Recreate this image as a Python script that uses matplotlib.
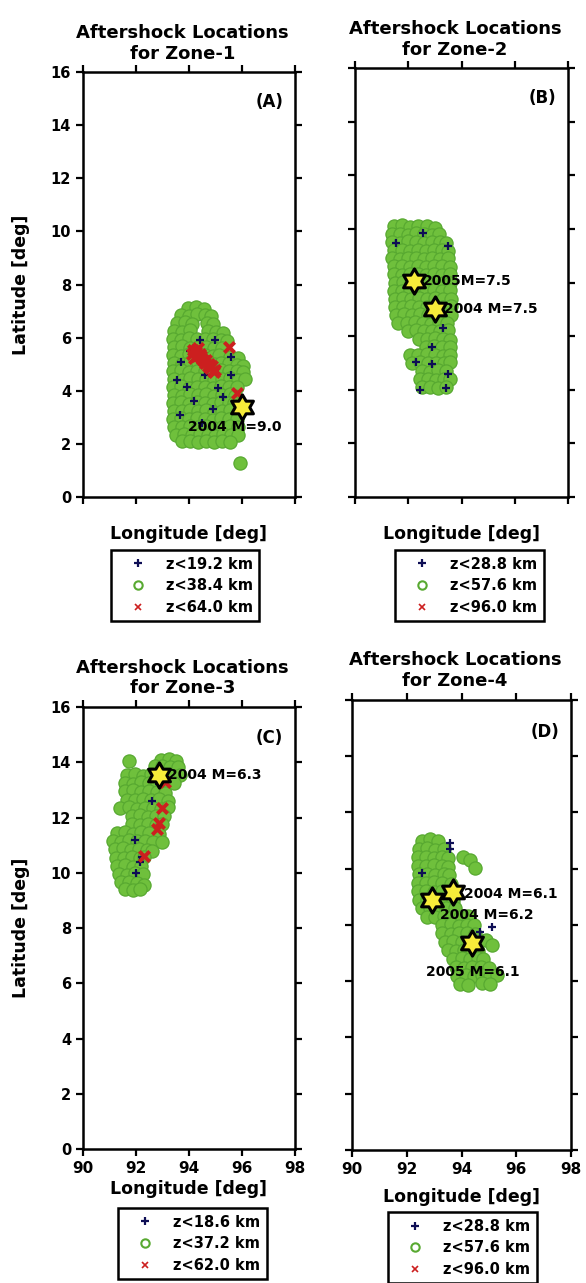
import matplotlib
matplotlib.use('Agg')
import matplotlib.pyplot as plt
from matplotlib.lines import Line2D
from matplotlib.path import Path
import numpy as np

plt.rcParams['font.family'] = ['DejaVu Sans']
plt.rcParams['font.weight'] = 'bold'
plt.rcParams['axes.labelweight'] = 'bold'

# ---------------- datos (lon, lat) ----------------
# Zona 1
zone1_mid = [
    (93.95, 7.12), (94.25, 7.15), (94.55, 7.08),
    (93.70, 6.85), (94.00, 6.82), (94.30, 6.88), (94.60, 6.84), (94.82, 6.80),
    (93.55, 6.55), (93.85, 6.58), (94.10, 6.52), (94.68, 6.56), (94.92, 6.50),
    (93.45, 6.25), (93.75, 6.22), (94.05, 6.28), (94.72, 6.24), (95.02, 6.20), (95.30, 6.18),
    (93.40, 5.95), (93.70, 5.92), (94.00, 5.97), (94.30, 5.93), (94.60, 5.96), (94.90, 5.94), (95.20, 5.90), (95.45, 5.88),
    (93.45, 5.65), (93.75, 5.68), (94.05, 5.62), (94.35, 5.66), (94.65, 5.64), (94.95, 5.60), (95.25, 5.62),
    (93.40, 5.35), (93.70, 5.32), (94.00, 5.38), (94.30, 5.34), (94.60, 5.36), (94.90, 5.30), (95.15, 5.33), (95.55, 5.28), (95.85, 5.22),
    (93.45, 5.05), (93.75, 5.02), (94.05, 5.08), (94.35, 5.04), (94.65, 5.06), (94.95, 5.00), (95.20, 5.03), (95.50, 5.05), (95.80, 4.98), (96.05, 4.95),
    (93.40, 4.75), (93.70, 4.78), (94.00, 4.72), (94.30, 4.76), (94.60, 4.74), (94.90, 4.70), (95.20, 4.77), (95.50, 4.73), (95.80, 4.75), (96.05, 4.70),
    (93.45, 4.45), (93.75, 4.42), (94.05, 4.48), (94.35, 4.44), (94.65, 4.46), (94.95, 4.40), (95.25, 4.43), (95.55, 4.47), (95.85, 4.42), (96.10, 4.45),
    (93.40, 4.15), (93.70, 4.18), (94.00, 4.12), (94.30, 4.16), (94.60, 4.14), (94.90, 4.10), (95.20, 4.17), (95.50, 4.13), (95.80, 4.15),
    (93.45, 3.85), (93.75, 3.82), (94.05, 3.88), (94.35, 3.84), (94.65, 3.86), (94.95, 3.80), (95.25, 3.83), (95.55, 3.87), (95.75, 3.82),
    (93.40, 3.55), (93.70, 3.58), (94.00, 3.52), (94.30, 3.56), (94.60, 3.54), (94.90, 3.50), (95.20, 3.57), (95.50, 3.53), (95.70, 3.55),
    (93.45, 3.25), (93.75, 3.22), (94.05, 3.28), (94.35, 3.24), (94.65, 3.26), (94.95, 3.20), (95.25, 3.23), (95.55, 3.27),
    (93.40, 2.95), (93.70, 2.98), (94.00, 2.92), (94.30, 2.96), (94.60, 2.94), (94.90, 2.90), (95.20, 2.97), (95.50, 2.93), (95.80, 2.95),
    (93.45, 2.65), (93.75, 2.62), (94.05, 2.68), (94.35, 2.64), (94.65, 2.66), (94.95, 2.60), (95.25, 2.63), (95.55, 2.67), (95.85, 2.62),
    (93.50, 2.35), (93.80, 2.38), (94.10, 2.32), (94.40, 2.36), (94.70, 2.34), (95.00, 2.30), (95.30, 2.37), (95.60, 2.33), (95.85, 2.35),
    (93.75, 2.10), (94.05, 2.12), (94.35, 2.08), (94.65, 2.10), (94.95, 2.06), (95.25, 2.10), (95.55, 2.08),
    (95.92, 1.28),
]
zone1_shallow = [
    (94.42, 5.92), (95.58, 5.28), (93.92, 4.15), (93.70, 5.10), (94.60, 4.60),
    (95.10, 4.10), (94.20, 3.60), (94.90, 3.30), (95.30, 3.75), (93.65, 3.10),
    (94.50, 2.80), (95.60, 4.60), (94.05, 5.50), (95.00, 5.90), (93.55, 4.40),
]
zone1_deep = [
    (94.15, 5.55), (94.25, 5.45), (94.30, 5.30), (94.20, 5.25), (94.40, 5.40),
    (94.50, 5.20), (94.60, 5.05), (94.70, 4.95), (94.80, 4.85), (94.90, 4.75),
    (95.00, 4.80), (94.65, 5.15), (94.35, 5.60), (94.10, 5.40), (94.45, 5.30),
    (94.55, 5.12), (94.75, 5.00), (94.85, 4.95), (94.95, 4.70), (94.25, 5.55),
    (95.50, 5.65), (95.80, 3.90),
]
zone1_stars = [(96.0, 3.4)]
zone1_notes = ['2004 M=9.0']
zone1_note_xy = [(93.95, 2.64)]
zone1_legend = ['z<19.2 km', 'z<38.4 km', 'z<64.0 km']

# Zona 2
zone2_mid = [
    (91.45, 10.10), (91.75, 10.15), (92.05, 10.08), (92.35, 10.12), (92.70, 10.10), (93.00, 10.05),
    (91.40, 9.80), (91.70, 9.82), (92.00, 9.78), (92.30, 9.84), (92.60, 9.80), (92.90, 9.76), (93.15, 9.82),
    (91.40, 9.50), (91.70, 9.48), (92.00, 9.53), (92.30, 9.50), (92.60, 9.47), (92.90, 9.52), (93.20, 9.50), (93.40, 9.46),
    (91.45, 9.20), (91.75, 9.22), (92.05, 9.18), (92.35, 9.21), (92.65, 9.19), (92.95, 9.23), (93.25, 9.20), (93.50, 9.18),
    (91.40, 8.90), (91.70, 8.88), (92.00, 8.92), (92.30, 8.90), (92.60, 8.87), (92.90, 8.91), (93.20, 8.89), (93.50, 8.92),
    (91.45, 8.60), (91.75, 8.62), (92.05, 8.58), (92.35, 8.61), (92.65, 8.59), (92.95, 8.63), (93.25, 8.60), (93.55, 8.58),
    (91.45, 8.30), (91.75, 8.28), (92.05, 8.32), (92.35, 8.30), (92.65, 8.27), (92.95, 8.31), (93.25, 8.29), (93.55, 8.32),
    (91.50, 8.00), (91.80, 8.02), (92.10, 7.98), (92.40, 8.01), (92.70, 7.99), (93.00, 8.03), (93.30, 8.00), (93.55, 7.98),
    (91.45, 7.70), (91.75, 7.68), (92.05, 7.72), (92.35, 7.70), (92.65, 7.67), (92.95, 7.71), (93.25, 7.69), (93.55, 7.72),
    (91.50, 7.40), (91.80, 7.42), (92.10, 7.38), (92.40, 7.41), (92.70, 7.39), (93.00, 7.43), (93.30, 7.40), (93.60, 7.38),
    (91.50, 7.10), (91.80, 7.08), (92.10, 7.12), (92.40, 7.10), (92.70, 7.07), (93.00, 7.11), (93.30, 7.09), (93.60, 7.12),
    (91.55, 6.80), (91.85, 6.82), (92.15, 6.78), (92.45, 6.81), (92.75, 6.79), (93.05, 6.83), (93.35, 6.80), (93.60, 6.78),
    (91.60, 6.50), (91.95, 6.48), (92.25, 6.52), (92.55, 6.50), (92.85, 6.47), (93.15, 6.51), (93.45, 6.49),
    (92.00, 6.20), (92.30, 6.22), (92.60, 6.18), (92.90, 6.21), (93.20, 6.19), (93.50, 6.23),
    (92.40, 5.90), (92.70, 5.88), (93.00, 5.92), (93.30, 5.90), (93.55, 5.87),
    (92.65, 5.60), (92.95, 5.62), (93.25, 5.58), (93.55, 5.61),
    (92.05, 5.30), (92.35, 5.28), (92.70, 5.32), (93.00, 5.30), (93.30, 5.27), (93.55, 5.31),
    (92.15, 5.00), (92.45, 5.02), (92.75, 4.98), (93.05, 5.01), (93.35, 4.99), (93.55, 5.03),
    (92.50, 4.70), (92.80, 4.68), (93.10, 4.72), (93.40, 4.70),
    (92.45, 4.40), (92.75, 4.42), (93.05, 4.38), (93.35, 4.41), (93.55, 4.39),
    (92.50, 4.10), (92.80, 4.12), (93.10, 4.08), (93.40, 4.11),
]
zone2_shallow = [
    (91.54, 9.47), (92.56, 9.85), (93.50, 9.36), (92.30, 5.05), (92.90, 4.95),
    (92.45, 4.00), (93.40, 4.05), (93.50, 4.60), (92.90, 5.60), (93.30, 6.30),
]
zone2_deep = []
zone2_stars = [(92.2, 8.04), (93.0, 7.03)]
zone2_notes = ['2005M=7.5', '2004 M=7.5']
zone2_note_xy = [(92.55, 8.04), (93.35, 7.03)]
zone2_legend = ['z<28.8 km', 'z<57.6 km', 'z<96.0 km']

# Zona 3
zone3_mid = [
    (91.72, 14.05), (92.95, 14.10), (93.25, 14.12), (93.50, 14.05),
    (92.70, 13.85), (93.00, 13.88), (93.30, 13.82), (93.60, 13.84),
    (91.65, 13.55), (91.95, 13.58), (92.25, 13.52), (92.55, 13.56), (93.10, 13.54), (93.40, 13.50), (93.65, 13.55),
    (91.60, 13.25), (91.90, 13.22), (92.20, 13.28), (92.50, 13.24), (92.80, 13.26), (93.10, 13.20), (93.45, 13.25),
    (91.60, 12.95), (91.90, 12.98), (92.20, 12.92), (92.50, 12.96), (92.80, 12.94), (93.10, 12.90),
    (91.65, 12.65), (91.95, 12.62), (92.25, 12.68), (92.55, 12.64), (92.85, 12.66), (93.20, 12.60),
    (91.40, 12.35), (91.75, 12.38), (92.05, 12.32), (92.35, 12.36), (92.65, 12.34), (92.95, 12.30), (93.20, 12.37),
    (91.85, 12.05), (92.15, 12.08), (92.45, 12.02), (92.75, 12.06), (93.05, 12.04),
    (91.85, 11.75), (92.15, 11.72), (92.45, 11.78), (92.75, 11.74), (93.00, 11.76),
    (91.30, 11.45), (91.60, 11.48), (91.90, 11.42), (92.20, 11.46), (92.50, 11.44), (92.85, 11.40),
    (91.15, 11.15), (91.45, 11.12), (91.75, 11.18), (92.05, 11.14), (92.35, 11.16), (92.65, 11.10), (93.00, 11.13),
    (91.20, 10.85), (91.50, 10.88), (91.80, 10.82), (92.10, 10.86), (92.40, 10.84), (92.60, 10.80),
    (91.25, 10.55), (91.55, 10.52), (91.85, 10.58), (92.15, 10.54), (92.30, 10.56),
    (91.30, 10.25), (91.60, 10.28), (91.90, 10.22), (92.20, 10.26),
    (91.35, 9.95), (91.65, 9.92), (91.95, 9.98), (92.25, 9.94),
    (91.45, 9.65), (91.75, 9.68), (92.05, 9.62), (92.30, 9.55),
    (91.60, 9.40), (91.90, 9.38), (92.15, 9.42),
]
zone3_shallow = [
    (92.24, 10.58), (92.15, 10.40), (91.95, 11.20), (92.60, 12.60), (92.00, 10.00), (92.85, 13.20),
]
zone3_deep = [
    (92.99, 12.35), (92.87, 11.80), (92.80, 11.60), (93.10, 13.30), (92.30, 10.60),
]
zone3_stars = [(92.87, 13.55)]
zone3_notes = ['2004 M=6.3']
zone3_note_xy = [(93.22, 13.55)]
zone3_legend = ['z<18.6 km', 'z<37.2 km', 'z<62.0 km']

# Zona 4
zone4_mid = [
    (92.55, 11.00), (92.85, 11.04), (93.15, 10.98),
    (92.45, 10.70), (92.75, 10.72), (93.05, 10.68), (93.35, 10.71),
    (92.40, 10.40), (92.70, 10.42), (93.00, 10.38), (93.30, 10.41), (93.50, 10.39), (94.05, 10.42), (94.30, 10.30),
    (92.40, 10.10), (92.70, 10.08), (93.00, 10.12), (93.30, 10.10), (93.50, 10.07), (94.50, 10.02),
    (92.45, 9.80), (92.75, 9.82), (93.05, 9.78), (93.35, 9.81), (93.55, 9.79),
    (92.40, 9.50), (92.70, 9.48), (93.00, 9.52), (93.30, 9.50), (93.60, 9.47),
    (92.40, 9.20), (92.70, 9.22), (93.00, 9.18), (93.30, 9.21), (93.65, 9.19),
    (92.45, 8.90), (92.75, 8.88), (93.05, 8.92), (93.35, 8.90), (93.70, 8.87),
    (92.55, 8.60), (92.85, 8.62), (93.15, 8.58), (93.45, 8.61), (93.75, 8.59),
    (92.75, 8.30), (93.05, 8.28), (93.35, 8.32), (93.65, 8.30), (93.95, 8.27), (94.25, 8.31),
    (93.30, 8.00), (93.60, 8.02), (93.90, 7.98), (94.20, 8.01), (94.45, 7.99),
    (93.30, 7.70), (93.60, 7.68), (93.90, 7.72), (94.20, 7.70), (94.50, 7.67),
    (93.40, 7.40), (93.70, 7.42), (94.00, 7.38), (94.30, 7.41), (94.60, 7.39), (94.90, 7.47), (95.10, 7.30),
    (93.50, 7.10), (93.80, 7.08), (94.10, 7.12), (94.40, 7.10), (94.60, 7.07),
    (93.70, 6.80), (94.00, 6.82), (94.30, 6.78), (94.60, 6.81), (94.80, 6.79),
    (93.80, 6.50), (94.10, 6.48), (94.40, 6.52), (94.70, 6.50), (95.00, 6.47),
    (93.85, 6.20), (94.15, 6.22), (94.45, 6.18), (94.75, 6.21), (95.05, 6.19), (95.30, 6.23),
    (93.95, 5.90), (94.25, 5.88), (94.75, 5.92), (95.05, 5.90),
]
zone4_shallow = [
    (93.58, 10.90), (93.58, 10.70), (92.55, 9.86), (95.10, 7.94), (94.67, 7.76),
]
zone4_deep = []
zone4_stars = [(92.92, 8.9), (93.69, 9.18), (94.38, 7.37)]
zone4_notes = ['2004 M=6.1', '2004 M=6.2', '2005 M=6.1']
zone4_note_xy = [(94.10, 9.10), (93.20, 8.36), (92.70, 6.33)]
zone4_legend = ['z<28.8 km', 'z<57.6 km', 'z<96.0 km']

# ---------------- estilo ----------------
verde = '#6fc03c'
verde_borde = '#58a931'
azul = '#0e0e55'
rojo = '#cc1f1f'
amarillo = '#f7ec3a'
estrella = Path.unit_regular_star(6, 0.58)


def dibujar_zona(ax, mid, shallow, deep, stars, notes, note_xy, tag, zona,
                 xlab_y, show_x, show_y):
    ax.set_xlim(90, 98)
    ax.set_ylim(0, 16)
    ax.set_xticks([90, 92, 94, 96, 98])
    ax.set_yticks([0, 2, 4, 6, 8, 10, 12, 14, 16])
    ax.tick_params(direction='out', length=5, width=1.6, top=True, right=True,
                   labelbottom=show_x, labelleft=show_y)
    ax.tick_params(axis='x', labelsize=11)
    ax.tick_params(axis='y', labelsize=10.5)
    for s in ax.spines.values():
        s.set_linewidth(1.8)

    m = np.array(mid)
    ax.scatter(m[:, 0], m[:, 1], s=90, facecolor=verde, edgecolor=verde_borde,
               linewidths=0.9, zorder=2)
    if len(shallow):
        p = np.array(shallow)
        ax.scatter(p[:, 0], p[:, 1], s=30, marker='+', color=azul,
                   linewidths=1.6, zorder=3)
    if len(deep):
        d = np.array(deep)
        ax.scatter(d[:, 0], d[:, 1], s=55, marker='x', color=rojo,
                   linewidths=2.8, zorder=3)
    st = np.array(stars)
    ax.scatter(st[:, 0], st[:, 1], s=330, marker=estrella, facecolor=amarillo,
               edgecolor='black', linewidths=2.2, zorder=5)
    for txt, (x, y) in zip(notes, note_xy):
        ax.text(x, y, txt, fontsize=10, ha='left', va='center', zorder=6)

    ax.text(0.945, 0.93, tag, transform=ax.transAxes, fontsize=12,
            ha='right', va='center')
    ax.text(0.47, 1.022, 'Aftershock Locations\nfor Zone-%d' % zona,
            transform=ax.transAxes, fontsize=13, ha='center', va='bottom',
            linespacing=1.2)
    ax.set_xlabel('Longitude [deg]', fontsize=12.5)
    ax.xaxis.set_label_coords(0.5, xlab_y)
    if show_y:
        ax.set_ylabel('Latitude [deg]', fontsize=12.5)
        ax.yaxis.set_label_coords(-0.25, 0.5)


def leyenda(fig, labels, cx, top):
    handles = [
        Line2D([], [], ls='none', marker='+', color=azul, ms=6, mew=1.6),
        Line2D([], [], ls='none', marker='o', mfc='none', mec=verde_borde, ms=6, mew=1.5),
        Line2D([], [], ls='none', marker='x', color=rojo, ms=4, mew=1.2),
    ]
    lg = fig.legend(handles, labels, loc='upper center', bbox_to_anchor=(cx, top),
                    fontsize=10.5, frameon=True, fancybox=False, edgecolor='black',
                    framealpha=1, borderpad=0.45, handlelength=2.8,
                    handletextpad=0.5, labelspacing=0.45, borderaxespad=0)
    lg.get_frame().set_linewidth(1.8)


fig = plt.figure(figsize=(5.86, 12.83), dpi=100)
ax1 = fig.add_axes([0.1416, 0.6126, 0.3618, 0.3313])
ax2 = fig.add_axes([0.6058, 0.6126, 0.3635, 0.3344])
ax3 = fig.add_axes([0.1416, 0.1044, 0.3618, 0.3445])
ax4 = fig.add_axes([0.6007, 0.1037, 0.3737, 0.3507])

dibujar_zona(ax1, zone1_mid, zone1_shallow, zone1_deep, zone1_stars, zone1_notes,
             zone1_note_xy, '(A)', 1, -0.066, False, True)
dibujar_zona(ax2, zone2_mid, zone2_shallow, zone2_deep, zone2_stars, zone2_notes,
             zone2_note_xy, '(B)', 2, -0.066, False, False)
dibujar_zona(ax3, zone3_mid, zone3_shallow, zone3_deep, zone3_stars, zone3_notes,
             zone3_note_xy, '(C)', 3, -0.07, True, True)
dibujar_zona(ax4, zone4_mid, zone4_shallow, zone4_deep, zone4_stars, zone4_notes,
             zone4_note_xy, '(D)', 4, -0.084, True, False)

leyenda(fig, zone1_legend, 0.316, 0.5713)
leyenda(fig, zone2_legend, 0.801, 0.5713)
leyenda(fig, zone3_legend, 0.3285, 0.0585)
leyenda(fig, zone4_legend, 0.789, 0.0553)

fig.savefig('out.png', dpi=100, facecolor='white')
